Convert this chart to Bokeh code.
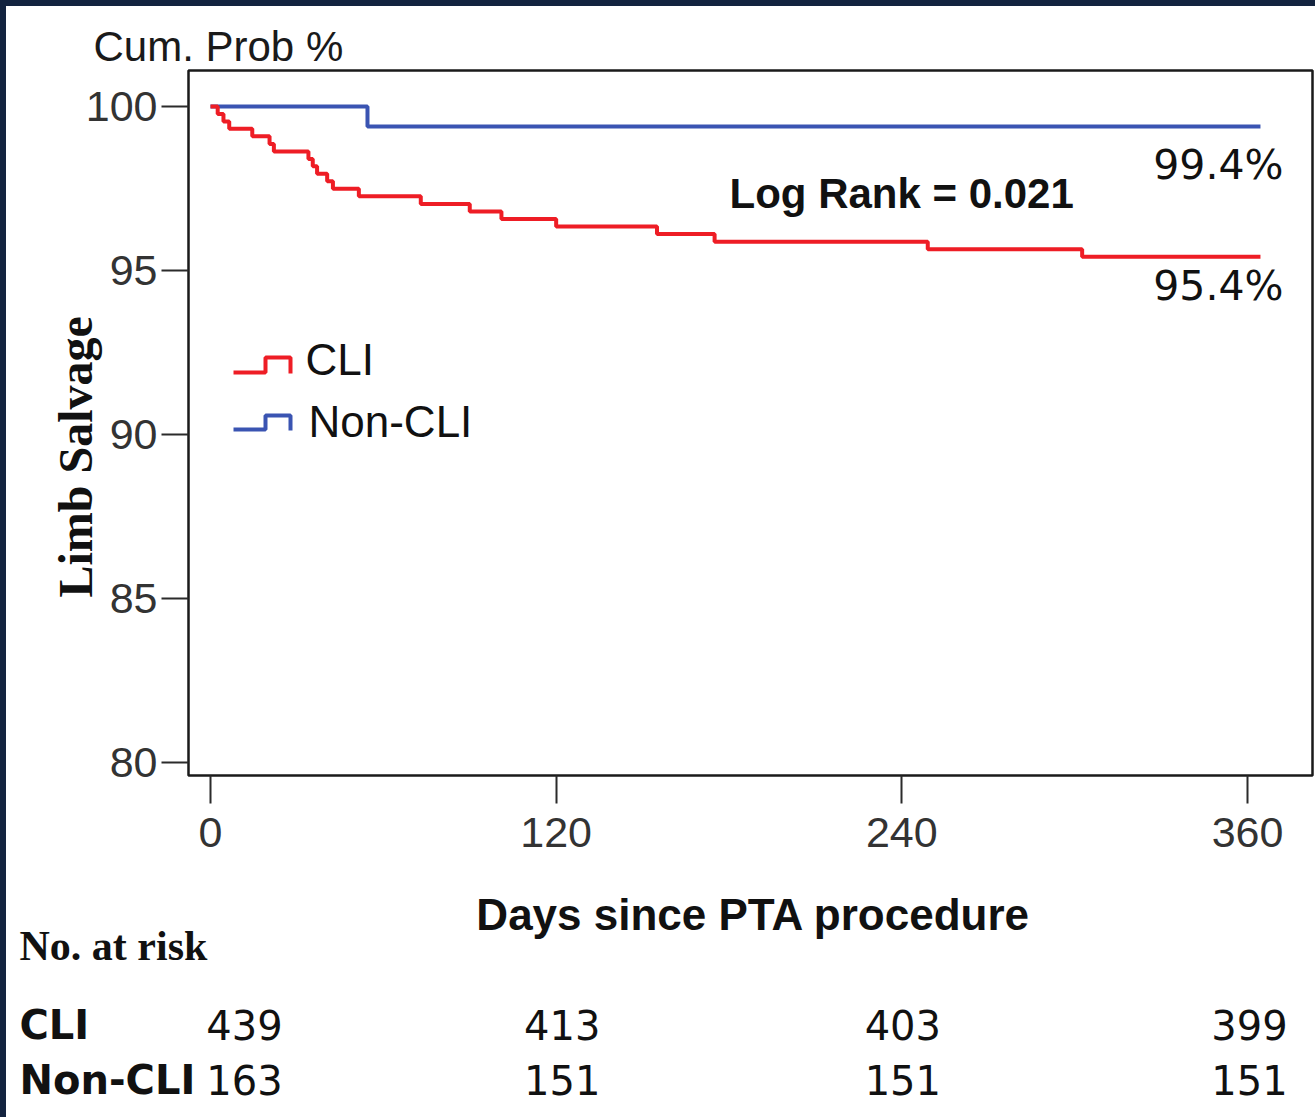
import math
from bokeh.plotting import figure
from bokeh.models import Label, FixedTicker, Range1d, Title, Spacer
from bokeh.layouts import column, row
from bokeh.embed import file_html
from bokeh.resources import INLINE

# ---------------- data ----------------
cli_days = [0, 2.5, 4.5, 6.5, 14.5, 20.5, 22, 34, 35.5, 37, 40.5, 42.5, 51.5,
            73, 90, 101, 120, 155, 175, 249, 302.6, 364.5]
cli_surv = [100, 99.77, 99.54, 99.32, 99.09, 98.86, 98.63, 98.40, 98.18, 97.95,
            97.72, 97.49, 97.26, 97.03, 96.80, 96.57, 96.34, 96.11, 95.88, 95.65,
            95.42, 95.42]
noncli_days = [0, 54.5, 364.5]
noncli_surv = [100, 99.39, 99.39]

risk_days = [0, 120, 240, 360]
cli_at_risk = [439, 413, 403, 399]
noncli_at_risk = [163, 151, 151, 151]

x_ticks = [0, 120, 240, 360]
y_ticks = [80, 85, 90, 95, 100]
final_text = ["99.4%", "95.4%"]
series_names = ["CLI", "Non-CLI"]

# ---------------- geometry (page pixels) ----------------
PAGE_W, PAGE_H = 1315, 1117
EDGE = 6                      # dark frame of the picture (top / left)
OX, OY = EDGE, EDGE           # page position of the chart figure
X0_PX = 210.0
PX_PER_DAY = (1247.0 - 210.0) / 360.0
Y100_PX = 106.0
PX_PER_PCT = 32.8
LBL = 16                      # baseline correction for Label text


def dx(px):
    return (px - X0_PX) / PX_PER_DAY


def dy(py):
    return 100.0 - (py - Y100_PX) / PX_PER_PCT


FRAME_L, FRAME_R, FRAME_T, FRAME_B = 188, 1312, 70, 775
SPLIT = 870                   # page y where chart figure ends and table figure begins
W1 = PAGE_W - OX
H1 = SPLIT - OY
H2 = PAGE_H - SPLIT

RED = "#ee1d25"
BLUE = "#3a54b2"
INK = "#111111"
TICK_INK = "#2b2b2b"
NAVY = "#13233f"

fig = figure(width=W1, height=H1, output_backend="svg", toolbar_location=None,
             title=None,
             x_range=Range1d(dx(FRAME_L), dx(FRAME_R)),
             y_range=Range1d(dy(FRAME_B), dy(FRAME_T)),
             min_border_left=FRAME_L - OX,
             min_border_right=OX + W1 - FRAME_R,
             min_border_top=FRAME_T - OY,
             min_border_bottom=OY + H1 - FRAME_B)

fig.background_fill_color = "white"
fig.border_fill_color = "white"
fig.outline_line_color = "#1a1a1a"
fig.outline_line_width = 2.5
fig.xgrid.visible = False
fig.ygrid.visible = False

# axes
fig.xaxis.ticker = FixedTicker(ticks=x_ticks)
fig.yaxis.ticker = FixedTicker(ticks=y_ticks)
for ax in (fig.xaxis[0], fig.yaxis[0]):
    ax.axis_line_color = None
    ax.major_tick_in = 0
    ax.minor_tick_line_color = None
    ax.major_tick_line_color = TICK_INK
    ax.major_tick_line_width = 2
    ax.major_label_text_font = "Liberation Sans"
    ax.major_label_text_font_size = "43px"
    ax.major_label_text_color = "#333333"
fig.xaxis.major_tick_out = 28
fig.xaxis.major_label_standoff = 14
fig.yaxis.major_tick_out = 27
fig.yaxis.major_label_standoff = 4

# titles around the frame
fig.add_layout(Title(text="Cum. Prob %", align="left", offset=93 - FRAME_L, standoff=2,
                     text_font="Liberation Sans", text_font_style="normal",
                     text_font_size="42px", text_color="#1a1a1a"), "above")
fig.add_layout(Title(text="Limb Salvage", align="left", offset=FRAME_B - 597, standoff=-38,
                     text_font="Liberation Serif", text_font_style="bold",
                     text_font_size="48px", text_color=INK), "left")

# curves
fig.step(noncli_days, noncli_surv, mode="after", line_color=BLUE, line_width=4)
fig.step(cli_days, cli_surv, mode="after", line_color=RED, line_width=4)

# legend icons (step symbol) + labels
legend_rows = [(RED, 372, 357, series_names[0], 305, 375),
               (BLUE, 429, 415, series_names[1], 308, 437)]
for col, low, high, name, tx, tb in legend_rows:
    xs = [dx(233), dx(265), dx(265), dx(290), dx(290)]
    ys = [dy(low), dy(low), dy(high), dy(high), dy(low + 1)]
    fig.line(xs, ys, line_color=col, line_width=4)
    fig.add_layout(Label(x=dx(tx), y=dy(tb - LBL), text=name, text_font="Liberation Sans",
                         text_font_size="44px", text_color=INK,
                         text_baseline="alphabetic", text_align="left"))

# final survival annotations
fig.add_layout(Label(x=dx(1283), y=dy(180 - LBL), text=final_text[0], text_font="DejaVu Sans",
                     text_font_size="41px", text_color=INK,
                     text_align="right", text_baseline="alphabetic"))
fig.add_layout(Label(x=dx(1283), y=dy(301 - LBL), text=final_text[1], text_font="DejaVu Sans",
                     text_font_size="41px", text_color=INK,
                     text_align="right", text_baseline="alphabetic"))

# log rank
fig.add_layout(Label(x=dx(729), y=dy(209 - LBL), text="Log Rank = 0.021",
                     text_font="Liberation Sans", text_font_style="bold",
                     text_font_size="42px", text_color=INK,
                     text_align="left", text_baseline="alphabetic"))

# ---------------- lower figure: x title + number at risk ----------------
tab = figure(width=W1, height=H2, frame_width=W1, frame_height=H2,
             output_backend="svg", toolbar_location=None, title=None,
             x_range=Range1d(dx(OX), dx(OX + W1)),
             y_range=Range1d(PAGE_H, SPLIT),
             x_axis_location=None, y_axis_location=None, min_border=0)
tab.outline_line_color = None
tab.background_fill_color = "white"
tab.border_fill_color = "white"
tab.grid.visible = False

for f in (fig, tab):
    if "frame_align" in f.properties():
        f.frame_align = False

tab.add_layout(Label(x=dx(753), y=930 - LBL, text="Days since PTA procedure",
                     text_font="Liberation Sans", text_font_style="bold",
                     text_font_size="44px", text_color=INK,
                     text_align="center", text_baseline="alphabetic"))
tab.add_layout(Label(x=dx(19), y=961 - LBL, text="No. at risk", text_font="Liberation Serif",
                     text_font_style="bold", text_font_size="42px", text_color=INK,
                     text_align="left", text_baseline="alphabetic"))
row_specs = [(series_names[0], cli_at_risk, 1040), (series_names[1], noncli_at_risk, 1095)]
col_shift = [34, 6, 1, 2]
for name, counts, base in row_specs:
    tab.add_layout(Label(x=dx(19), y=base - LBL, text=name, text_font="DejaVu Sans",
                         text_font_style="bold", text_font_size="40px", text_color=INK,
                         text_align="left", text_baseline="alphabetic"))
    for d, n, sh in zip(risk_days, counts, col_shift):
        tab.add_layout(Label(x=d, y=base - LBL, x_offset=sh, text=str(n),
                             text_font="DejaVu Sans", text_font_size="40px", text_color=INK,
                             text_align="center", text_baseline="alphabetic"))

top_bar = Spacer(width=PAGE_W, height=EDGE, styles={"background-color": NAVY})
left_bar = Spacer(width=EDGE, height=PAGE_H - EDGE, styles={"background-color": NAVY})
p = column(top_bar, row(left_bar, column(fig, tab)))

open("out.html", "w").write(file_html(p, INLINE))
